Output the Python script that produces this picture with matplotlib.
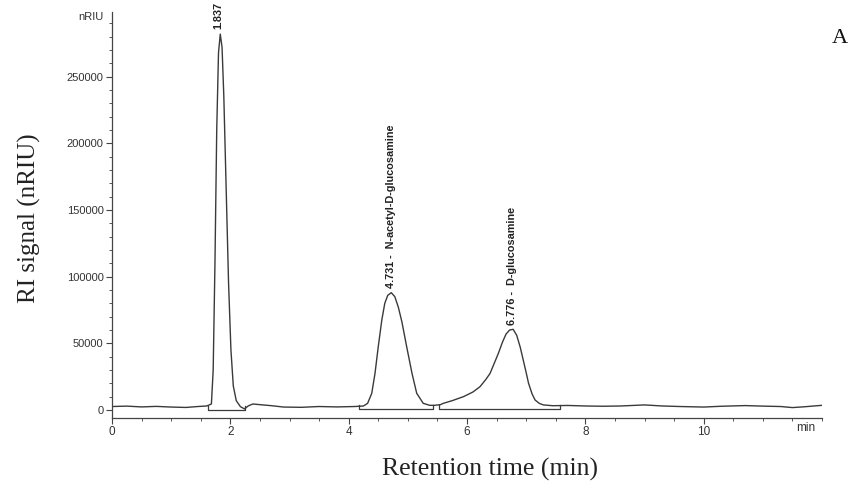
import matplotlib
matplotlib.use("Agg")
import matplotlib.pyplot as plt
from matplotlib.ticker import MultipleLocator

# ---- data ----
time_min = [0.0, 0.25, 0.5, 0.75, 1.0, 1.25, 1.45, 1.6, 1.68, 1.71, 1.74, 1.77, 1.80, 1.83,
            1.86, 1.89, 1.93, 1.97, 2.01, 2.05, 2.10, 2.17, 2.24, 2.30, 2.38, 2.50, 2.70, 2.90,
            3.2, 3.5, 3.8, 4.1, 4.25, 4.32, 4.39, 4.445, 4.50, 4.56, 4.61, 4.66, 4.72, 4.78,
            4.84, 4.90, 4.98, 5.07, 5.15, 5.26, 5.37, 5.45, 5.55, 5.60, 5.75, 5.94, 6.10, 6.22,
            6.32, 6.39, 6.46, 6.53, 6.60, 6.66, 6.72, 6.78, 6.84, 6.90, 6.95, 7.00, 7.04, 7.10,
            7.15, 7.22, 7.29, 7.45, 7.7, 8.0, 8.3, 8.6, 9.0, 9.3, 9.6, 10.0, 10.3, 10.7, 11.0,
            11.3, 11.5, 11.7, 12.0]
signal_nriu = [2600, 2900, 2300, 2700, 2200, 1900, 2600, 3000, 4500, 30000, 110000, 210000, 268000, 282000,
               272000, 235000, 165000, 95000, 45000, 18000, 7000, 2500, 800, 3000, 4500, 4000, 3200, 2200,
               2000, 2600, 2300, 2600, 3000, 5000, 12500, 27500, 47500, 67500, 80000, 86000, 88000, 85000,
               77000, 66000, 47500, 27500, 12500, 5000, 3500, 3500, 4000, 5000, 7000, 10000, 13500, 17500,
               23000, 27500, 35000, 42500, 51000, 57000, 60000, 60500, 56000, 47000, 37500, 28000, 20000, 12000,
               7500, 5000, 3800, 3200, 3400, 3000, 2800, 3000, 3800, 3000, 2600, 2200, 2800, 3300, 2900,
               2600, 1800, 2400, 3500]

# integration baselines (start, end, level)
integ_start = [1.62, 4.18, 5.53]
integ_end = [2.25, 5.42, 7.57]
integ_level = [-300, 800, 800]

# peak annotations
peak_rt = [1.80, 4.715, 6.755]
peak_top = [284000, 90000, 62000]
peak_labels = ["1.837", "4.731 -  N-acetyl-D-glucosamine", "6.776 -  D-glucosamine"]

x_ticks = [0, 2, 4, 6, 8, 10]
y_ticks = [0, 50000, 100000, 150000, 200000, 250000]
y_ticklabels = ["0", "50000", "100000", "150000", "200000", "250000"]

fig = plt.figure(figsize=(8.53, 4.84), dpi=100)
ax = fig.add_axes([0.1313, 0.1364, 0.8324, 0.8386])

trace_color = "#3a3a3a"
ax.plot(time_min, signal_nriu, color=trace_color, lw=1.0)

for s, e, lv in zip(integ_start, integ_end, integ_level):
    ax.plot([s, s, e, e], [lv + 3000, lv, lv, lv + 3000], color=trace_color, lw=0.9)

sans = "Liberation Sans"
for rt, top, lab in zip(peak_rt, peak_top, peak_labels):
    ax.text(rt, top + 1500, lab, rotation=90, ha="center", va="bottom",
            fontsize=7.8, family=sans, fontweight="bold", color="#222222", clip_on=False)

ax.set_xlim(0, 12)
ax.set_ylim(-6000, 298500)
ax.set_xticks(x_ticks)
ax.set_xticklabels([str(t) for t in x_ticks], family=sans, fontsize=8.5, color="#333333")
ax.set_yticks(y_ticks)
ax.set_yticklabels(y_ticklabels, family=sans, fontsize=8, color="#333333")
ax.xaxis.set_minor_locator(MultipleLocator(0.5))
ax.yaxis.set_minor_locator(MultipleLocator(10000))
ax.tick_params(axis="both", which="major", direction="out", length=4, width=0.8, colors="#444444", pad=2)
ax.tick_params(axis="both", which="minor", direction="out", length=2, width=0.7, colors="#555555")
ax.tick_params(axis="x", labelcolor="#333333")
ax.tick_params(axis="y", labelcolor="#333333")

for side in ["top", "right"]:
    ax.spines[side].set_visible(False)
for side in ["left", "bottom"]:
    ax.spines[side].set_color("#444444")
    ax.spines[side].set_linewidth(0.9)

# unit labels at the axis ends
ax.text(-0.15, 294750, "nRIU", ha="right", va="center", fontsize=8, family=sans, color="#333333")
ax.text(11.72, -9000, "min", ha="center", va="top", fontsize=8.5, family=sans, color="#333333")

serif = "Liberation Serif"
fig.text(0.035, 0.55, "RI signal (nRIU)", rotation=90, ha="center", va="center",
         fontsize=18, family=serif, color="#222222")
fig.text(0.575, 0.03, "Retention time (min)", ha="center", va="center",
         fontsize=18.5, family=serif, color="#222222")
fig.text(0.985, 0.92, "A", ha="center", va="center", fontsize=16, family=serif, color="#111111")

fig.savefig("out.png", dpi=100, facecolor="white")
